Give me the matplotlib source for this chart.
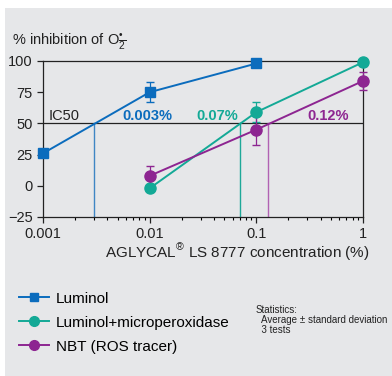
import numpy as np
import matplotlib
matplotlib.use('Agg')
from matplotlib import pyplot as plt
from matplotlib.patches import Rectangle
from matplotlib.lines import Line2D

plt.rcParams['font.family'] = ['Liberation Sans', 'DejaVu Sans']
plt.rcParams['mathtext.fontset'] = 'custom'
plt.rcParams['mathtext.rm'] = 'Liberation Sans'

conc = [0.001, 0.01, 0.1, 1]

luminol_x = [0.001, 0.01, 0.1]
luminol_y = [26, 75, 98]
luminol_err = [0, 8, 0]

micro_x = [0.01, 0.1, 1]
micro_y = [-2, 59, 99]
micro_err = [2, 8, 3]

nbt_x = [0.01, 0.1, 1]
nbt_y = [8, 45, 84]
nbt_err = [8, 12, 7]

ic50 = [0.003, 0.07, 0.13]
ic50_labels = ['0.003%', '0.07%', '0.12%']
ic50_label_x = [0.0095, 0.043, 0.47]

names = ['Luminol', 'Luminol+microperoxidase', 'NBT (ROS tracer)']

blue = '#0b6cbd'
green = '#13a996'
purple = '#8d2591'
line_cols = ['#3f86c4', '#1ea898', '#b162b3']

fig = plt.figure(figsize=(3.92, 3.76), dpi=100)
fig.patch.set_facecolor('white')
fig.patches.append(Rectangle((5 / 392, 0), 1, 1 - 8 / 376, transform=fig.transFigure,
                             facecolor='#e6e7e9', edgecolor='none', zorder=-10))

ax = fig.add_axes([43 / 392, 1 - 217 / 376, 320 / 392, 156 / 376])
ax.set_facecolor('none')
ax.set_xscale('log')
ax.set_xlim(0.001, 1)
ax.set_ylim(-25, 100)

ax.axhline(50, color='#222222', lw=0.9, zorder=1)
for x, c in zip(ic50, line_cols):
    ax.plot([x, x], [-25, 50], color=c, lw=1.0, zorder=1)

series = [(luminol_x, luminol_y, luminol_err, blue, 's', 7),
          (micro_x, micro_y, micro_err, green, 'o', 8),
          (nbt_x, nbt_y, nbt_err, purple, 'o', 8)]
for xs, ys, err, c, m, ms in series:
    eb = ax.errorbar(xs, ys, yerr=err, color=c, marker=m, ms=ms, lw=1.4, capsize=3,
                     elinewidth=0.9, zorder=3)
    for art in eb.lines[0:1] + tuple(eb.lines[1]) + tuple(eb.lines[2]):
        art.set_clip_on(False)

ax.text(0.00113, 53, 'IC50', fontsize=10.5, color='#222222')
for lx, lab, c in zip(ic50_label_x, ic50_labels, [blue, green, purple]):
    ax.text(lx, 52.5, lab, fontsize=10.5, color=c, fontweight='bold', ha='center')

ax.set_yticks([-25, 0, 25, 50, 75, 100])
ax.set_xticks(conc)
ax.set_xticklabels(['0.001', '0.01', '0.1', '1'])
ax.tick_params(axis='both', labelsize=10.5, direction='out', length=4, width=0.9, colors='#222222')
ax.tick_params(axis='x', which='minor', length=2.5, width=0.8)
for s in ax.spines.values():
    s.set_color('#222222')
    s.set_linewidth(0.9)

ax.set_xlabel(r'AGLYCAL$^{\mathregular{®}}$ LS 8777 concentration (%)', fontsize=11,
              color='#222222')
ax.xaxis.set_label_coords(0.606, -0.155)

fig.text(12 / 392, 1 - 42 / 376, r'% inhibition of O$_{\overline{2}}^{\mathregular{•}}$',
         fontsize=10.5, color='#222222', va='center')

handles = [Line2D([], [], color=c, marker=m, ms=ms - 1, lw=1.4)
           for _, _, _, c, m, ms in series]
fig.legend(handles, names, loc='upper left', bbox_to_anchor=(11 / 392, 1 - 284 / 376),
           frameon=False, fontsize=11, handlelength=2.0, labelspacing=0.65,
           handletextpad=0.45, borderpad=0)

fig.text(256 / 392, 1 - 305 / 376,
         'Statistics:\n  Average \u00b1 standard deviation\n  3 tests',
         fontsize=7, color='#222222', va='top', linespacing=1.0)

fig.savefig('out.png', dpi=100)
